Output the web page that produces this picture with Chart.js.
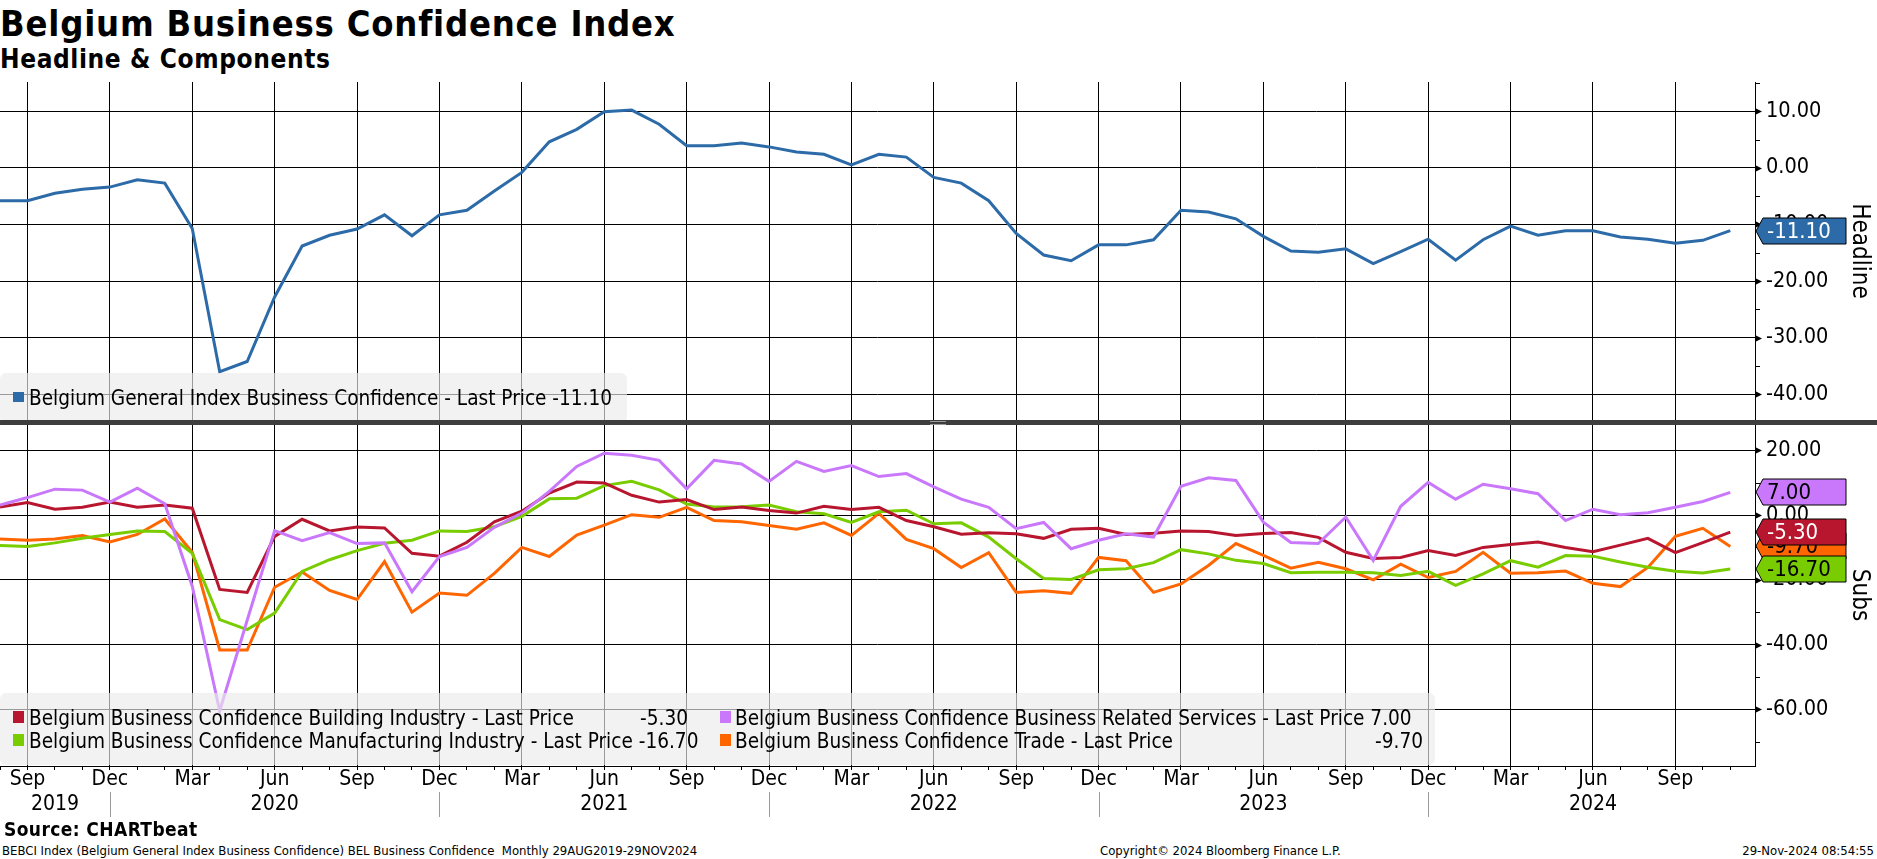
<!DOCTYPE html>
<html lang="en">
<head>
<meta charset="utf-8">
<title>Belgium Business Confidence Index</title>
<script src="https://cdn.jsdelivr.net/npm/chart.js@4.4.1/dist/chart.umd.min.js"></script>
<style>
html, body { margin: 0; padding: 0; background: #fff; }
body { position: relative; width: 1877px; height: 859px; overflow: hidden;
       font-family: 'DejaVu Sans Condensed', 'DejaVu Sans', sans-serif; color: #000; }
.txt { position: absolute; line-height: 1; white-space: nowrap; z-index: 3; }
canvas { position: absolute; left: 0; z-index: 1; }
#topCanvas { top: 82px; }
#subsCanvas { top: 424px; }
.legend-box { position: absolute; left: 0; background: rgba(235,235,235,0.65); border-radius: 6px; z-index: 2; }
.swatch { position: absolute; z-index: 3; }
.leg { font-size: 20.6px; }
#separator { position: absolute; left: 0; top: 420px; width: 1877px; height: 5px; background: #3d3d3d; z-index: 4; }
#grip { position: absolute; left: 930px; top: 421px; width: 16px; height: 2px; border-top: 1px solid #9a9a9a; border-bottom: 1px solid #9a9a9a; z-index: 5; }
</style>
</head>
<body>
<div class="txt" style="left:0;top:5.5px;font-size:36px;font-weight:bold;letter-spacing:0.8px;">Belgium Business Confidence Index</div>
<div class="txt" style="left:0;top:46.3px;font-size:26px;font-weight:bold;letter-spacing:0.6px;">Headline &amp; Components</div>

<canvas id="topCanvas" width="1877" height="338"></canvas>
<canvas id="subsCanvas" width="1877" height="396"></canvas>

<div class="legend-box" style="top:373px;width:627px;height:50px;"></div>
<div class="legend-box" style="top:693px;width:1435px;height:72px;"></div>
<div id="legends"></div>

<div id="separator"></div>
<div id="grip"></div>

<div class="txt" style="left:4px;top:820px;font-size:19px;font-weight:bold;letter-spacing:0.4px;">Source: CHARTbeat</div>
<div class="txt" style="left:2px;top:844px;font-size:13px;">BEBCI Index (Belgium General Index Business Confidence) BEL Business Confidence&nbsp;&nbsp;Monthly 29AUG2019-29NOV2024</div>
<div class="txt" style="left:1100px;top:844px;font-size:13px;">Copyright© 2024 Bloomberg Finance L.P.</div>
<div class="txt" style="right:3px;top:844px;font-size:13px;">29-Nov-2024 08:54:55</div>

<script>
// monthly observations, Aug 2019 .. Nov 2024
const CATEGORIES = [
    '2019-08', '2019-09', '2019-10', '2019-11', '2019-12',
    '2020-01', '2020-02', '2020-03', '2020-04', '2020-05', '2020-06', '2020-07', '2020-08', '2020-09', '2020-10', '2020-11', '2020-12',
    '2021-01', '2021-02', '2021-03', '2021-04', '2021-05', '2021-06', '2021-07', '2021-08', '2021-09', '2021-10', '2021-11', '2021-12',
    '2022-01', '2022-02', '2022-03', '2022-04', '2022-05', '2022-06', '2022-07', '2022-08', '2022-09', '2022-10', '2022-11', '2022-12',
    '2023-01', '2023-02', '2023-03', '2023-04', '2023-05', '2023-06', '2023-07', '2023-08', '2023-09', '2023-10', '2023-11', '2023-12',
    '2024-01', '2024-02', '2024-03', '2024-04', '2024-05', '2024-06', '2024-07', '2024-08', '2024-09', '2024-10', '2024-11'
];

const HEADLINE = [
    -5.8, -5.8, -4.5, -3.8, -3.4,
    -2.1, -2.7, -10.7, -36.0, -34.2, -22.8, -13.8, -11.9, -10.8, -8.3, -12.0, -8.3,
    -7.5, -4.1, -0.8, 4.6, 6.8, 9.9, 10.2, 7.7, 3.9, 3.9, 4.4, 3.7,
    2.8, 2.4, 0.5, 2.4, 1.9, -1.7, -2.7, -5.8, -11.6, -15.4, -16.4, -13.6,
    -13.6, -12.7, -7.5, -7.8, -9.0, -12.1, -14.7, -14.9, -14.3, -16.9, -14.8, -12.6,
    -16.3, -12.7, -10.3, -11.9, -11.1, -11.1, -12.2, -12.6, -13.3, -12.8, -11.1
];

const BUILDING = [
    2.5, 3.9, 1.8, 2.4, 4.0,
    2.4, 3.1, 2.1, -23.0, -23.9, -6.6, -1.3, -4.9, -3.7, -4.0, -11.8, -12.7,
    -8.4, -2.1, 1.2, 6.8, 10.2, 9.9, 6.1, 4.0, 4.8, 1.7, 2.5, 1.4,
    0.6, 2.7, 1.7, 2.4, -1.7, -3.6, -5.9, -5.5, -5.8, -7.2, -4.4, -4.1,
    -6.0, -5.6, -4.9, -5.1, -6.3, -5.7, -5.4, -6.9, -11.5, -13.4, -13.1, -11.0,
    -12.5, -10.0, -9.1, -8.3, -10.0, -11.3, -9.3, -7.2, -11.6, -8.5, -5.3
];

const MANUFACTURING = [
    -9.4, -9.7, -8.6, -7.2, -6.0,
    -4.9, -5.1, -11.8, -32.3, -35.4, -30.3, -17.4, -13.8, -11.0, -8.7, -7.8, -4.9,
    -5.1, -3.6, -0.4, 5.0, 5.2, 9.1, 10.4, 7.8, 3.4, 2.5, 2.6, 3.1,
    1.0, 0.4, -2.3, 1.0, 1.5, -2.7, -2.4, -6.8, -13.5, -19.6, -19.9, -16.9,
    -16.6, -14.7, -10.7, -12.0, -14.0, -15.0, -17.8, -17.7, -17.7, -17.8, -18.7, -17.4,
    -21.7, -18.2, -14.1, -16.1, -12.5, -12.7, -14.5, -16.1, -17.4, -17.9, -16.7
];

const SERVICES = [
    3.1, 5.4, 8.0, 7.7, 4.0,
    8.3, 3.5, -22.0, -60.5, -32.5, -4.8, -7.9, -5.4, -8.8, -8.6, -23.7, -12.8,
    -10.0, -3.8, 0.6, 7.3, 15.0, 19.1, 18.5, 16.9, 8.1, 16.9, 15.8, 10.4,
    16.6, 13.5, 15.3, 11.9, 12.8, 8.7, 4.9, 2.4, -4.2, -2.3, -10.4, -7.8,
    -5.8, -6.8, 8.9, 11.5, 10.7, -2.2, -8.5, -8.8, -0.6, -14.0, 2.7, 10.1,
    4.9, 9.5, 8.1, 6.6, -1.7, 1.8, 0.1, 0.7, 2.4, 4.2, 7.0
];

const TRADE = [
    -7.4, -7.8, -7.4, -6.3, -8.3,
    -6.0, -1.2, -11.5, -41.7, -41.7, -22.3, -17.6, -23.3, -26.1, -14.4, -30.0, -24.1,
    -24.8, -18.0, -10.0, -12.8, -6.2, -3.1, 0.1, -0.7, 2.4, -1.7, -2.1, -3.2,
    -4.4, -2.4, -6.3, 0.5, -7.5, -10.4, -16.2, -11.6, -23.9, -23.4, -24.2, -13.1,
    -14.1, -23.9, -21.3, -15.6, -8.8, -12.5, -16.4, -14.6, -16.6, -20.0, -15.2, -19.3,
    -17.4, -11.5, -18.0, -17.8, -17.3, -21.1, -22.1, -16.2, -6.6, -4.1, -9.7
];

const HEADLINE_TICKS = [10, 0, -10, -20, -30, -40];
const HEADLINE_MINOR = [15, 5, -5, -15, -25, -35];
const SUBS_TICKS = [20, 0, -20, -40, -60];
const SUBS_MINOR = [10, -10, -30, -50, -70];

const MONTH_TICKS = { '03': 'Mar', '06': 'Jun', '09': 'Sep', '12': 'Dec' };
const YEAR_LABEL_AT = ['2019-10', '2020-06', '2021-06', '2022-06', '2023-06', '2024-06'];
const YEAR_LABEL_TEXT = ['2019', '2020', '2021', '2022', '2023', '2024'];
const YEAR_BREAKS = ['2019-12', '2020-12', '2021-12', '2022-12', '2023-12'];

const COLORS = {
    headline: '#2C6BA8',
    building: '#B8162F',
    manufacturing: '#79CC00',
    services: '#C978FB',
    trade: '#FF6600'
};

const FONT = "'DejaVu Sans Condensed', 'DejaVu Sans', sans-serif";
const AXIS_W = 122;

Chart.defaults.font.family = FONT;
Chart.defaults.color = '#000';

const isQuarterMonth = i => CATEGORIES[i] && parseInt(CATEGORIES[i].slice(5), 10) % 3 === 0;
const toPoints = arr => arr.map((v, i) => ({ x: i, y: v }));
const lastOf = arr => arr[arr.length - 1];

// axis tick marks, year separators and the last-price boxes
const panelDecor = {
    id: 'panelDecor',
    afterDraw(chart, args, opts) {
        const { ctx, chartArea: area } = chart;
        const xs = chart.scales.x, ys = chart.scales.y;
        ctx.save();
        ctx.fillStyle = '#000';
        ctx.strokeStyle = '#000';
        ctx.lineWidth = 1;

        opts.major.forEach(v => {
            const py = Math.round(ys.getPixelForValue(v)) + 0.5;
            ctx.beginPath();
            ctx.moveTo(area.right, py - 3.5);
            ctx.lineTo(area.right + 7, py);
            ctx.lineTo(area.right, py + 3.5);
            ctx.closePath();
            ctx.fill();
        });
        opts.minor.forEach(v => {
            const py = Math.round(ys.getPixelForValue(v)) + 0.5;
            ctx.beginPath();
            ctx.moveTo(area.right, py);
            ctx.lineTo(area.right + 5, py);
            ctx.stroke();
        });

        if (opts.breaks) {
            ctx.strokeStyle = '#9a9a9a';
            opts.breaks.forEach(c => {
                const px = Math.round(xs.getPixelForValue(CATEGORIES.indexOf(c))) + 0.5;
                ctx.beginPath();
                ctx.moveTo(px, area.bottom + 26);
                ctx.lineTo(px, area.bottom + 51);
                ctx.stroke();
            });
        }

        opts.boxes.forEach(b => {
            const ds = chart.data.datasets[b.dataset];
            const val = lastOf(ds.data).y;
            const cy = Math.round(ys.getPixelForValue(val));
            const L = area.right + 1, R = area.right + 91, h = 13;
            ctx.beginPath();
            ctx.moveTo(L, cy);
            ctx.lineTo(L + 7, cy - h);
            ctx.lineTo(R, cy - h);
            ctx.lineTo(R, cy + h);
            ctx.lineTo(L + 7, cy + h);
            ctx.closePath();
            ctx.fillStyle = ds.borderColor;
            ctx.fill();
            ctx.strokeStyle = '#000';
            ctx.stroke();
            ctx.fillStyle = b.text;
            ctx.font = '22px ' + FONT;
            ctx.textAlign = 'left';
            ctx.textBaseline = 'middle';
            ctx.fillText(val.toFixed(2), area.right + 12, cy + 1);
        });
        ctx.restore();
    }
};

function panelOptions(cfg) {
    return {
        responsive: false,
        animation: false,
        devicePixelRatio: 1,
        layout: { padding: 0 },
        elements: { point: { radius: 0 }, line: { borderWidth: 3, tension: 0 } },
        plugins: {
            legend: { display: false },
            tooltip: { enabled: false },
            panelDecor: { major: cfg.ticks, minor: cfg.minor, boxes: cfg.boxes, breaks: cfg.breaks }
        },
        scales: {
            x: {
                type: 'linear',
                min: 0,
                max: 63.9,
                afterBuildTicks: s => { s.ticks = CATEGORIES.map((c, i) => ({ value: i })); },
                afterFit: s => { s.height = cfg.xHeight; s.paddingLeft = 0; s.paddingRight = 0; },
                grid: {
                    color: c => (c.tick && isQuarterMonth(c.tick.value)) ? '#000' : 'rgba(0,0,0,0)',
                    lineWidth: 1,
                    drawTicks: cfg.showLabels,
                    tickLength: 4,
                    tickColor: '#000'
                },
                border: { display: cfg.showLabels, color: '#000', width: 1 },
                ticks: {
                    display: cfg.showLabels,
                    autoSkip: false,
                    maxRotation: 0,
                    padding: -3,
                    color: '#000',
                    font: { size: 21, lineHeight: '25px' },
                    callback: value => {
                        const c = CATEGORIES[Math.round(value)];
                        const yi = YEAR_LABEL_AT.indexOf(c);
                        return [MONTH_TICKS[c.slice(5)] || '', yi >= 0 ? YEAR_LABEL_TEXT[yi] : ''];
                    }
                }
            },
            y: {
                position: 'right',
                min: cfg.min,
                max: cfg.max,
                afterBuildTicks: s => { s.ticks = cfg.ticks.map(v => ({ value: v })); },
                afterFit: s => { s.width = AXIS_W; s.paddingTop = 0; s.paddingBottom = 0; },
                grid: { color: '#000', lineWidth: 1, drawTicks: false },
                border: { color: '#000', width: 1 },
                ticks: {
                    padding: 11,
                    color: '#000',
                    font: { size: 21.5 },
                    callback: v => v.toFixed(2)
                },
                title: {
                    display: true,
                    text: cfg.title,
                    color: '#000',
                    font: { size: 24, lineHeight: 1.2 },
                    padding: { top: 3, bottom: 0 }
                }
            }
        }
    };
}

new Chart(document.getElementById('topCanvas'), {
    type: 'line',
    data: {
        datasets: [
            { label: 'Belgium General Index Business Confidence', data: toPoints(HEADLINE), borderColor: COLORS.headline }
        ]
    },
    options: panelOptions({
        min: -44.53, max: 15.16, ticks: HEADLINE_TICKS, minor: HEADLINE_MINOR,
        title: 'Headline', xHeight: 0, showLabels: false,
        boxes: [{ dataset: 0, text: '#fff' }]
    }),
    plugins: [panelDecor]
});

// first dataset is drawn on top
const subsDatasets = [
    { label: 'Belgium Business Confidence Business Related Services', data: toPoints(SERVICES), borderColor: COLORS.services },
    { label: 'Belgium Business Confidence Building Industry', data: toPoints(BUILDING), borderColor: COLORS.building },
    { label: 'Belgium Business Confidence Manufacturing Industry', data: toPoints(MANUFACTURING), borderColor: COLORS.manufacturing },
    { label: 'Belgium Business Confidence Trade', data: toPoints(TRADE), borderColor: COLORS.trade }
];

new Chart(document.getElementById('subsCanvas'), {
    type: 'line',
    data: { datasets: subsDatasets },
    options: panelOptions({
        min: -77.54, max: 28.13, ticks: SUBS_TICKS, minor: SUBS_MINOR,
        title: 'Subs', xHeight: 54, showLabels: true, breaks: YEAR_BREAKS,
        boxes: [
            { dataset: 3, text: '#000' },
            { dataset: 1, text: '#fff' },
            { dataset: 2, text: '#000' },
            { dataset: 0, text: '#000' }
        ]
    }),
    plugins: [panelDecor]
});

// legends (DOM text over the plot, like the terminal's translucent legend boxes)
// right: where a right-aligned value ends; inline items put the value straight after the label
const LEGEND_ITEMS = [
    { label: 'Belgium General Index Business Confidence - Last Price', data: HEADLINE, color: COLORS.headline, sw: [13, 392, 11, 10], x: 29, base: 405, inline: true },
    { label: 'Belgium Business Confidence Building Industry - Last Price', data: BUILDING, color: COLORS.building, sw: [13, 711, 11, 12], x: 29, base: 725, right: 688 },
    { label: 'Belgium Business Confidence Manufacturing Industry - Last Price', data: MANUFACTURING, color: COLORS.manufacturing, sw: [13, 734, 11, 12], x: 29, base: 748, inline: true },
    { label: 'Belgium Business Confidence Business Related Services - Last Price', data: SERVICES, color: COLORS.services, sw: [720, 711, 11, 12], x: 735, base: 725, inline: true },
    { label: 'Belgium Business Confidence Trade - Last Price', data: TRADE, color: COLORS.trade, sw: [720, 734, 11, 12], x: 735, base: 748, right: 1423 }
];

const legendHost = document.getElementById('legends');
LEGEND_ITEMS.forEach(item => {
    const sw = document.createElement('div');
    sw.className = 'swatch';
    sw.style.cssText = `left:${item.sw[0]}px;top:${item.sw[1]}px;width:${item.sw[2]}px;height:${item.sw[3]}px;background:${item.color};`;
    legendHost.appendChild(sw);

    const top = item.base - 0.846 * 20.6;
    const value = lastOf(item.data).toFixed(2);
    const lab = document.createElement('div');
    lab.className = 'txt leg';
    lab.style.cssText = `left:${item.x}px;top:${top}px;`;
    lab.textContent = item.inline ? item.label + ' ' + value : item.label;
    legendHost.appendChild(lab);

    if (!item.inline) {
        const val = document.createElement('div');
        val.className = 'txt leg';
        val.style.cssText = `right:${1877 - item.right}px;top:${top}px;`;
        val.textContent = value;
        legendHost.appendChild(val);
    }
});
</script>
</body>
</html>
